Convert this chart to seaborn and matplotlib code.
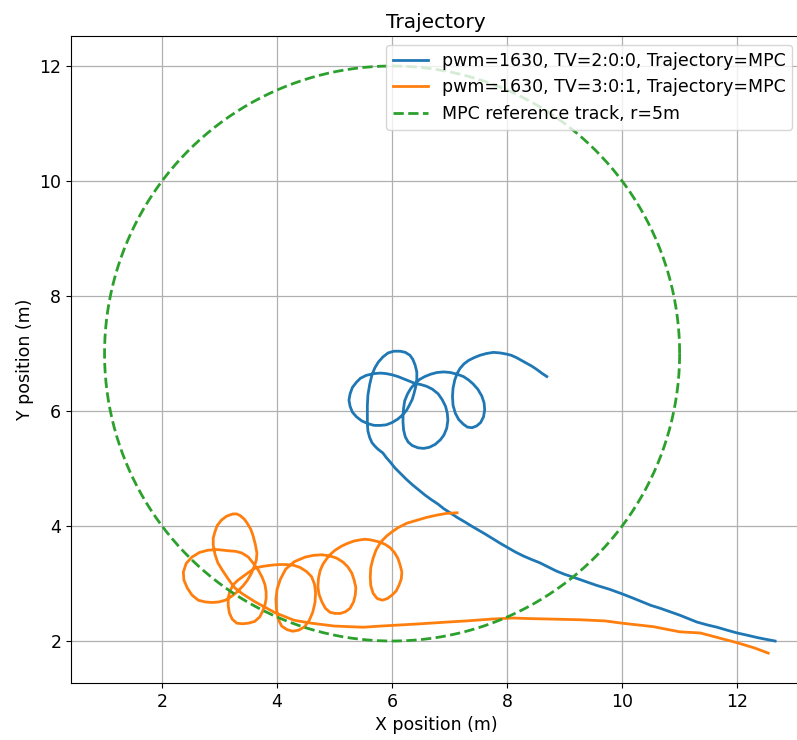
import numpy as np
import matplotlib
matplotlib.use("Agg")
import matplotlib.pyplot as plt
import seaborn as sns

# Run 1: pwm=1630, TV=2:0:0 -- (x, y) positions in metres
blue_xy = [
    (8.69, 6.60), (8.60, 6.66), (8.52, 6.72), (8.43, 6.78), (8.34, 6.83), (8.25, 6.88),
    (8.16, 6.93), (8.07, 6.97), (7.99, 6.99), (7.88, 7.01), (7.76, 7.02), (7.64, 7.00),
    (7.53, 6.97), (7.43, 6.93), (7.33, 6.88), (7.25, 6.82), (7.18, 6.74), (7.13, 6.65),
    (7.09, 6.54), (7.06, 6.40), (7.05, 6.25), (7.06, 6.10), (7.10, 5.96), (7.16, 5.85),
    (7.24, 5.77), (7.31, 5.72), (7.39, 5.71), (7.47, 5.74), (7.54, 5.80), (7.59, 5.90),
    (7.61, 6.02), (7.60, 6.14), (7.56, 6.26), (7.49, 6.38), (7.41, 6.47), (7.33, 6.54),
    (7.24, 6.60), (7.13, 6.64), (7.01, 6.67), (6.90, 6.68), (6.78, 6.67), (6.67, 6.64),
    (6.57, 6.60), (6.48, 6.55), (6.40, 6.48), (6.33, 6.40), (6.27, 6.30), (6.22, 6.18),
    (6.20, 6.05), (6.19, 5.92), (6.19, 5.80), (6.20, 5.67), (6.23, 5.55), (6.28, 5.46),
    (6.35, 5.40), (6.45, 5.36), (6.55, 5.35), (6.65, 5.37), (6.75, 5.42), (6.84, 5.50),
    (6.90, 5.58), (6.95, 5.70), (6.97, 5.84), (6.96, 5.96), (6.93, 6.08), (6.87, 6.20),
    (6.80, 6.30), (6.70, 6.38), (6.60, 6.43), (6.50, 6.46), (6.40, 6.48), (6.30, 6.52),
    (6.20, 6.56), (6.10, 6.60), (6.00, 6.63), (5.90, 6.65), (5.80, 6.66), (5.68, 6.65),
    (5.55, 6.62), (5.45, 6.57), (5.38, 6.50), (5.31, 6.41), (5.27, 6.30), (5.25, 6.19),
    (5.27, 6.08), (5.31, 5.98), (5.38, 5.90), (5.47, 5.83), (5.58, 5.78), (5.69, 5.75),
    (5.80, 5.75), (5.90, 5.76), (6.00, 5.80), (6.10, 5.86), (6.18, 5.93), (6.25, 6.01),
    (6.30, 6.10), (6.35, 6.20), (6.38, 6.30), (6.41, 6.42), (6.43, 6.55), (6.43, 6.68),
    (6.40, 6.80), (6.36, 6.90), (6.31, 6.97), (6.23, 7.02), (6.14, 7.04), (6.03, 7.04),
    (5.93, 7.01), (5.84, 6.94), (5.76, 6.85), (5.70, 6.75), (5.65, 6.63), (5.61, 6.46),
    (5.58, 6.28), (5.57, 6.10), (5.57, 5.93), (5.57, 5.78), (5.58, 5.65), (5.61, 5.54),
    (5.65, 5.45), (5.70, 5.39), (5.75, 5.34), (5.84, 5.27), (5.90, 5.19), (5.97, 5.11),
    (6.05, 5.01), (6.14, 4.92), (6.24, 4.82), (6.35, 4.72), (6.46, 4.63), (6.57, 4.54),
    (6.68, 4.46), (6.80, 4.38), (6.90, 4.30), (7.01, 4.23), (7.13, 4.15), (7.25, 4.08),
    (7.38, 4.00), (7.50, 3.93), (7.62, 3.86), (7.75, 3.78), (7.88, 3.70), (8.00, 3.63),
    (8.14, 3.55), (8.28, 3.48), (8.42, 3.42), (8.57, 3.36), (8.71, 3.29), (8.85, 3.22),
    (9.00, 3.16), (9.15, 3.11), (9.35, 3.04), (9.55, 2.97), (9.78, 2.90), (10.00, 2.82),
    (10.18, 2.75), (10.35, 2.68), (10.50, 2.62), (10.66, 2.57), (10.83, 2.51), (11.00, 2.45),
    (11.15, 2.39), (11.30, 2.33), (11.48, 2.28), (11.65, 2.24), (11.82, 2.19), (12.00, 2.14),
    (12.18, 2.10), (12.35, 2.06), (12.50, 2.03), (12.66, 2.00),
]

# Run 2: pwm=1630, TV=3:0:1 -- (x, y) positions in metres
orange_xy = [
    (12.54, 1.79), (12.30, 1.88), (12.00, 1.97), (11.70, 2.05), (11.36, 2.14), (11.00, 2.16),
    (10.54, 2.25), (10.00, 2.31), (9.70, 2.35), (9.27, 2.37), (8.80, 2.38), (8.40, 2.39),
    (8.10, 2.40), (7.70, 2.38), (7.30, 2.35), (6.96, 2.33), (6.50, 2.30), (6.14, 2.28),
    (5.80, 2.26), (5.50, 2.24), (5.00, 2.26), (4.60, 2.31), (4.30, 2.36), (3.97, 2.49),
    (3.62, 2.68), (3.40, 2.82), (3.27, 2.92), (3.20, 3.01), (3.13, 3.11), (3.05, 3.23),
    (2.97, 3.36), (2.92, 3.51), (2.89, 3.67), (2.89, 3.79), (2.92, 3.90), (2.96, 4.01),
    (3.03, 4.10), (3.12, 4.17), (3.23, 4.21), (3.30, 4.21), (3.36, 4.18), (3.43, 4.12),
    (3.48, 4.05), (3.54, 3.95), (3.58, 3.84), (3.62, 3.69), (3.65, 3.53), (3.64, 3.41),
    (3.60, 3.29), (3.55, 3.17), (3.48, 3.05), (3.40, 2.95), (3.30, 2.85), (3.20, 2.77),
    (3.10, 2.71), (2.99, 2.68), (2.87, 2.67), (2.75, 2.68), (2.63, 2.71), (2.52, 2.80),
    (2.44, 2.92), (2.38, 3.06), (2.37, 3.20), (2.42, 3.35), (2.52, 3.46), (2.65, 3.54),
    (2.80, 3.58), (2.97, 3.59), (3.15, 3.57), (3.28, 3.56), (3.39, 3.53), (3.50, 3.46),
    (3.58, 3.36), (3.67, 3.24), (3.74, 3.11), (3.79, 2.98), (3.81, 2.85), (3.81, 2.74),
    (3.79, 2.63), (3.75, 2.52), (3.70, 2.42), (3.61, 2.34), (3.50, 2.31), (3.40, 2.30),
    (3.30, 2.31), (3.22, 2.38), (3.17, 2.49), (3.15, 2.62), (3.15, 2.75), (3.18, 2.87),
    (3.24, 2.98), (3.31, 3.05), (3.39, 3.11), (3.50, 3.19), (3.62, 3.27), (3.76, 3.30),
    (3.91, 3.32), (4.03, 3.33), (4.15, 3.33), (4.28, 3.32), (4.40, 3.28), (4.51, 3.21),
    (4.60, 3.12), (4.65, 2.99), (4.67, 2.85), (4.66, 2.67), (4.62, 2.50), (4.56, 2.36),
    (4.48, 2.25), (4.38, 2.19), (4.27, 2.17), (4.17, 2.20), (4.08, 2.26), (4.02, 2.38),
    (3.99, 2.55), (3.98, 2.72), (4.00, 2.90), (4.06, 3.08), (4.15, 3.25), (4.30, 3.38),
    (4.49, 3.46), (4.63, 3.49), (4.78, 3.50), (4.92, 3.48), (5.04, 3.44), (5.15, 3.37),
    (5.23, 3.29), (5.30, 3.18), (5.34, 3.06), (5.37, 2.93), (5.36, 2.80), (5.33, 2.68),
    (5.27, 2.57), (5.19, 2.51), (5.10, 2.48), (5.01, 2.48), (4.92, 2.50), (4.84, 2.57),
    (4.78, 2.68), (4.73, 2.81), (4.71, 2.94), (4.72, 3.09), (4.75, 3.23), (4.80, 3.34),
    (4.87, 3.44), (4.94, 3.52), (5.01, 3.58), (5.12, 3.65), (5.23, 3.70), (5.34, 3.74),
    (5.45, 3.76), (5.53, 3.77), (5.62, 3.76), (5.71, 3.74), (5.79, 3.72), (5.88, 3.68),
    (5.97, 3.62), (6.04, 3.54), (6.10, 3.44), (6.14, 3.32), (6.17, 3.20), (6.16, 3.08),
    (6.12, 2.97), (6.07, 2.87), (6.00, 2.80), (5.92, 2.74), (5.83, 2.71), (5.74, 2.74),
    (5.67, 2.83), (5.63, 2.96), (5.62, 3.11), (5.63, 3.28), (5.67, 3.44), (5.72, 3.58),
    (5.79, 3.70), (5.85, 3.77), (5.91, 3.83), (6.00, 3.90), (6.10, 3.97), (6.26, 4.05),
    (6.43, 4.10), (6.60, 4.15), (6.78, 4.19), (6.95, 4.22), (7.13, 4.23),
]

# Reference circle for the MPC track
track_center = (6.0, 7.0)
track_radius = 5.0

labels = ["pwm=1630, TV=2:0:0, Trajectory=MPC",
          "pwm=1630, TV=3:0:1, Trajectory=MPC",
          "MPC reference track, r=5m"]
colors = ["#1f77b4", "#ff7f0e", "#2ca02c"]

plt.rcParams["font.size"] = 12.5

fig = plt.figure(figsize=(7.97, 7.40), dpi=100)
ax = fig.add_axes([71 / 797, 57 / 740, 730 / 797, 647 / 740])

lw = 2.0
for path, label, color in zip([blue_xy, orange_xy], labels[:2], colors[:2]):
    px, py = zip(*path)
    sns.lineplot(x=list(px), y=list(py), sort=False, estimator=None, color=color,
                 linewidth=lw, label=label, ax=ax)

theta = np.linspace(0, 2 * np.pi, 400)
circ_x = track_center[0] + track_radius * np.cos(theta)
circ_y = track_center[1] + track_radius * np.sin(theta)
sns.lineplot(x=circ_x, y=circ_y, sort=False, estimator=None, color=colors[2],
             linewidth=lw, linestyle="--", label=labels[2], ax=ax)

ax.set_xlim(0.417, 13.11)
ax.set_ylim(1.270, 12.522)
ax.set_xticks([2, 4, 6, 8, 10, 12])
ax.set_yticks([2, 4, 6, 8, 10, 12])
ax.grid(True, color="#b0b0b0", linewidth=0.9)
ax.set_xlabel("X position (m)")
ax.set_ylabel("Y position (m)")
ax.set_title("Trajectory", fontsize=14.5)
ax.legend(loc="upper right")

fig.savefig("out.png", dpi=100)
